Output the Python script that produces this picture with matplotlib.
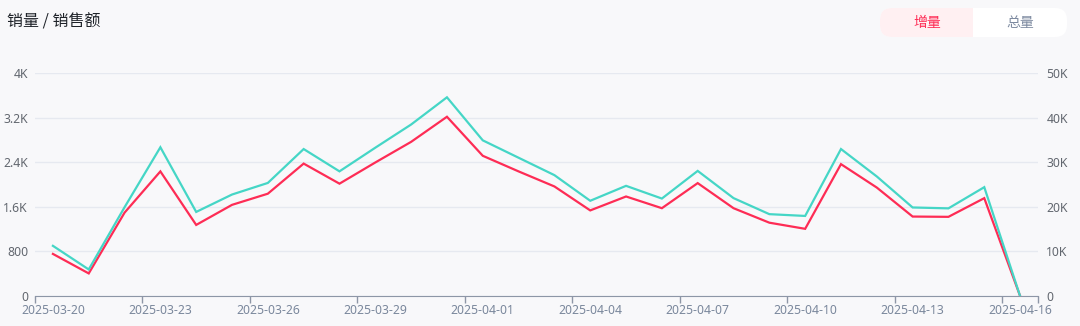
import matplotlib
matplotlib.use('Agg')
import matplotlib.pyplot as plt
from matplotlib.patches import FancyBboxPatch, Rectangle
from matplotlib.ticker import FuncFormatter
import numpy as np
import pandas as pd

plt.rcParams['font.family'] = ['Noto Sans', 'Noto Sans CJK SC', 'DejaVu Sans']

dates = pd.date_range('2025-03-20', '2025-04-16').strftime('%Y-%m-%d').tolist()

# 销量 (left axis)
qty = [755, 405, 1495, 2235, 1275, 1635, 1835, 2375, 2015, 2395,
       2765, 3215, 2515, 2235, 1965, 1535, 1785, 1575, 2025, 1575,
       1315, 1205, 2365, 1945, 1425, 1420, 1755, 0]
# 销售额 (right axis)
amount = [11250, 5950, 19900, 33350, 18850, 22750, 25350, 32950, 27950, 33250,
          38450, 44550, 34900, 31000, 27100, 21350, 24700, 21850, 28050, 21950,
          18350, 17950, 32950, 26800, 19850, 19650, 24400, 0]

bg = '#f8f8fa'
pink = '#fe2c55'
teal = '#45d6c6'
label_col = '#7a879c'

W, H = 1080, 326
fig = plt.figure(figsize=(W / 100, H / 100), dpi=100, facecolor=bg)


def px(x0, y0, x1, y1):
    # pixel box (top-left origin) -> figure fraction rect
    return [x0 / W, 1 - y1 / H, (x1 - x0) / W, (y1 - y0) / H]


ax = fig.add_axes(px(35, 73, 1038, 296))
ax.set_facecolor(bg)
ax2 = ax.twinx()

x = np.arange(len(dates))
ax.plot(x, qty, color=pink, lw=1.6, zorder=3, solid_joinstyle='miter')
ax2.plot(x, amount, color=teal, lw=1.6, zorder=2, solid_joinstyle='miter')

ax.set_xlim(-0.5, len(dates) - 0.5)
ax.set_ylim(0, 4000)
ax2.set_ylim(0, 50000)
ax.set_yticks([0, 800, 1600, 2400, 3200, 4000])
ax2.set_yticks([0, 10000, 20000, 30000, 40000, 50000])


def kfmt(v, pos):
    if v >= 1000:
        s = '%g' % (v / 1000)
        return s + 'K'
    return '%d' % v


ax.yaxis.set_major_formatter(FuncFormatter(kfmt))
ax2.yaxis.set_major_formatter(FuncFormatter(kfmt))
ax.grid(axis='y', color='#e6e9f0', lw=1)
ax.set_axisbelow(True)

# boundary ticks every 3 days, labels on the day itself
ax.set_xticks(np.append(np.arange(-0.5, len(dates), 3), len(dates) - 0.5))
ax.set_xticklabels([])
ax.set_xticks(x[::3], minor=True)
ax.set_xticklabels(dates[::3], minor=True)
ax.tick_params(axis='x', which='major', length=5, width=1, color='#8d96a6')
ax.tick_params(axis='x', which='minor', length=0, pad=6, labelsize=8.8, labelcolor=label_col)
ax.tick_params(axis='y', length=0, pad=5, labelsize=8.8, labelcolor='#62676f')
ax2.tick_params(axis='y', length=0, pad=6, labelsize=8.8, labelcolor='#62676f')

for a in (ax, ax2):
    for s in a.spines.values():
        s.set_visible(False)
ax.spines['bottom'].set_visible(True)
ax.spines['bottom'].set_color('#8d96a6')

fig.text(7 / W, 1 - 22 / H, '销量 / 销售额', fontsize=11.5, color='#1f2329',
         va='center', ha='left', fontweight='medium',
         family=['Noto Sans CJK SC', 'DejaVu Sans'])

# 增量 / 总量 toggle
tog = fig.add_axes([0, 0, 1, 1], facecolor='none')
tog.set_xlim(0, W)
tog.set_ylim(H, 0)
tog.axis('off')
tog.add_patch(FancyBboxPatch((880, 8), 187, 29, boxstyle='round,pad=0,rounding_size=12',
                             fc='white', ec='none'))
tog.add_patch(FancyBboxPatch((880, 8), 110, 29, boxstyle='round,pad=0,rounding_size=12',
                             fc='#fff0f2', ec='none'))
tog.add_patch(Rectangle((973, 8), 20, 29, fc='white', ec='none'))
tog.text(927, 22.5, '增量', fontsize=10, color=pink, ha='center', va='center',
         family=['Noto Sans CJK SC'])
tog.text(1020, 22.5, '总量', fontsize=10, color='#7d8aa0', ha='center', va='center',
         family=['Noto Sans CJK SC'])

fig.savefig('out.png', dpi=100, facecolor=bg)
